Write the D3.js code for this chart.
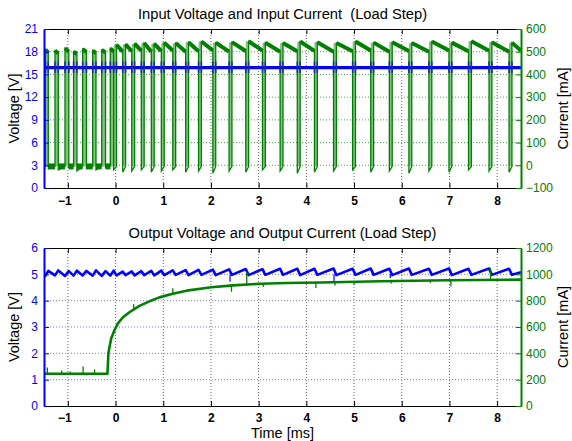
<!DOCTYPE html>
<html>
<head>
<meta charset="utf-8">
<script src="https://cdn.jsdelivr.net/npm/d3@7"></script>
<style>
  body { margin: 0; background: #fff; }
  svg text { font-family: "Liberation Sans", Arial, Helvetica, sans-serif; }
</style>
</head>
<body>
<div class="grafico"></div>
<script>
/*Ticks de los ejes*/
const timeTicks = [-1, 0, 1, 2, 3, 4, 5, 6, 7, 8];
const inVoltTicks = [0, 3, 6, 9, 12, 15, 18, 21];
const inCurrTicks = [-100, 0, 100, 200, 300, 400, 500, 600];
const outVoltTicks = [0, 1, 2, 3, 4, 5, 6];
const outCurrTicks = [0, 200, 400, 600, 800, 1000, 1200];

/*Flancos de la corriente de entrada (ms): subida y bajada de cada pulso*/
const pulseRise = [-1.47, -1.27, -1.06, -0.88, -0.69, -0.48, -0.29, -0.11,
  0.02, 0.21, 0.40, 0.60, 0.81, 1.02, 1.26, 1.53, 1.80, 2.10, 2.44, 2.79, 3.14,
  3.51, 3.87, 4.23, 4.63, 5.03, 5.41, 5.80, 6.21, 6.63, 7.05, 7.46, 7.89, 8.31];
const pulseFall = [-1.41, -1.20, -0.98, -0.81, -0.61, -0.41, -0.21, -0.04,
  0.15, 0.34, 0.54, 0.75, 0.96, 1.20, 1.47, 1.74, 2.04, 2.38, 2.73, 3.08, 3.45,
  3.81, 4.17, 4.57, 4.97, 5.35, 5.74, 6.15, 6.57, 6.99, 7.40, 7.83, 8.25, 8.50];
const lightPulses = 8; /*pulsos antes del escalón de carga*/

/*Corriente de entrada (mA)*/
const pulseTopMA = [510, 505, 515, 500, 512, 505, 508, 515,
  530, 532, 535, 538, 535, 540, 538, 542, 545, 540, 542, 546, 540,
  538, 545, 542, 538, 545, 540, 542, 538, 545, 540, 546, 542, 540];
const pulseEndMA = [495, 492, 500, 490, 498, 494, 496, 500,
  500, 502, 505, 500, 503, 505, 500, 502, 506, 500, 503, 505, 500,
  502, 504, 500, 502, 505, 500, 503, 500, 505, 502, 504, 500, 505];
const dipMinMA = [-15, -20, -10, -25, -15, -20, -10, -20,
  -30, -25, -20, -30, -25, -20, -30, -25, -35, -25, -30, -20, -25,
  -35, -30, -25, -20, -30, -25, -35, -25, -30, -20, -25, -30, -25];
const lowLevelMA = -5;

/*Tensión de entrada (V)*/
const inVoltLevel = 15.9;
const inVoltSpike = [15.2, 16.7];

/*Tensión de salida (V): valle en cada subida, pico en cada bajada*/
const outVStart = 5.02;
const outVTrough = [4.95, 4.96, 4.94, 4.95, 4.96, 4.95, 4.94, 4.95,
  4.96, 4.97, 4.96, 4.97, 4.96, 4.97, 4.98, 4.97, 4.98, 4.97, 4.98, 4.97, 4.98,
  4.98, 4.97, 4.98, 4.97, 4.98, 4.98, 4.97, 4.98, 4.98, 4.97, 4.98, 4.98, 4.98];
const outVPeak = [5.13, 5.15, 5.12, 5.14, 5.13, 5.15, 5.12, 5.14,
  5.10, 5.11, 5.12, 5.13, 5.14, 5.15, 5.16, 5.17, 5.18, 5.19, 5.20, 5.20, 5.21,
  5.21, 5.21, 5.22, 5.21, 5.22, 5.21, 5.22, 5.21, 5.22, 5.21, 5.22, 5.21, 5.08];
const outVGlitch = [[2.40, 4.72], [4.58, 4.75], [5.76, 4.86]];

/*Corriente de salida (mA)*/
const outCurrTime = [-1.5, -0.17, -0.15, -0.126, -0.09, -0.02, 0.05, 0.15, 0.29, 0.50,
  0.71, 0.92, 1.20, 1.49, 2.01, 2.46, 3.03, 3.59, 4.30, 5.55, 6.95, 8.5];
const outCurrMA = [245, 245, 400, 450, 514, 577, 628, 672, 712, 760,
  795, 825, 852, 876, 902, 916, 928, 934, 938, 948, 955, 960];
const outCurrSpikes = [[-1.43, 245, 292], [-1.13, 245, 270], [-0.95, 245, 262],
  [-0.68, 245, 300], [-0.44, 245, 278], [-0.60, 245, 232], [0.38, 725, 772],
  [1.20, 852, 895], [2.43, 915, 868], [2.75, 922, 1020], [3.10, 928, 905],
  [4.20, 936, 896], [4.60, 940, 915], [5.00, 942, 920], [5.78, 950, 930],
  [6.60, 954, 935], [7.03, 955, 908], [7.86, 957, 1048]];

const BLUE = '#0000ff';
const GREEN = '#008000';

const graph = () => {
  const w = 572;
  const h = 441;

  const svg = d3.select('.grafico')
    .append('svg')
    .attr('width', w)
    .attr('height', h);

  const x = d3.scaleLinear().domain([-1.5, 8.5]).range([44, 521]);
  const [x0, x1] = x.range();
  const fmt = d3.format('');

  /*Panel genérico: ejes, grilla y títulos*/
  const panel = (cfg) => {
    const { top, bottom } = cfg;
    const yL = d3.scaleLinear().domain(cfg.left).range([bottom, top]);
    const yR = d3.scaleLinear().domain(cfg.right).range([bottom, top]);
    const g = svg.append('g');

    svg.append('clipPath').attr('id', cfg.id)
      .append('rect')
      .attr('x', x0).attr('y', top)
      .attr('width', x1 - x0).attr('height', bottom - top);

    /*Grilla*/
    g.append('g').selectAll('line')
      .data(timeTicks)
      .join('line')
      .attr('x1', d => x(d)).attr('x2', d => x(d))
      .attr('y1', top).attr('y2', bottom)
      .attr('stroke', '#666')
      .attr('stroke-dasharray', '1,2');

    const gy = cfg.gridOnRight ? yR : yL;
    const gTicks = cfg.gridOnRight ? cfg.rightTicks : cfg.leftTicks;
    g.append('g').selectAll('line')
      .data(gTicks.slice(1, -1))
      .join('line')
      .attr('x1', x0).attr('x2', x1)
      .attr('y1', d => gy(d)).attr('y2', d => gy(d))
      .attr('stroke', cfg.gridColor)
      .attr('stroke-dasharray', '1,2');

    const plot = svg.append('g').attr('clip-path', `url(#${cfg.id})`);

    /*Ejes*/
    const axes = svg.append('g');
    const top_ = axes.append('g')
      .attr('transform', `translate(0,${top})`)
      .call(d3.axisTop(x).tickValues(timeTicks).tickSizeInner(-5).tickSizeOuter(0).tickFormat(''));
    top_.selectAll('line,path').attr('stroke', '#000');

    const bot = axes.append('g')
      .attr('transform', `translate(0,${bottom})`)
      .call(d3.axisBottom(x).tickValues(timeTicks).tickSizeInner(-5).tickSizeOuter(0)
        .tickPadding(cfg.xPad).tickFormat(fmt));
    bot.selectAll('line,path').attr('stroke', '#000');
    bot.selectAll('text')
      .attr('font-size', 12)
      .attr('font-weight', 'bold')
      .attr('fill', '#000')
      .attr('dx', d => d < 0 ? '-0.3em' : null);

    const left = axes.append('g')
      .attr('transform', `translate(${x0},0)`)
      .call(d3.axisLeft(yL).tickValues(cfg.leftTicks).tickSizeInner(-5).tickSizeOuter(0)
        .tickPadding(6).tickFormat(fmt));
    left.selectAll('line').attr('stroke', BLUE);
    left.select('.domain').attr('stroke', BLUE).attr('stroke-width', 2);
    left.selectAll('text').attr('font-size', 12).attr('fill', BLUE);

    const right = axes.append('g')
      .attr('transform', `translate(${x1},0)`)
      .call(d3.axisRight(yR).tickValues(cfg.rightTicks).tickSizeInner(-5).tickSizeOuter(0)
        .tickPadding(5).tickFormat(fmt));
    right.selectAll('line').attr('stroke', GREEN);
    right.select('.domain').attr('stroke', GREEN).attr('stroke-width', 2);
    right.selectAll('text').attr('font-size', 12).attr('fill', GREEN);

    /*Títulos*/
    svg.append('text')
      .attr('x', (x0 + x1) / 2).attr('y', cfg.titleY)
      .attr('text-anchor', 'middle')
      .attr('font-size', 14.7)
      .style('white-space', 'pre')
      .text(cfg.title);

    svg.append('text')
      .attr('transform', `translate(18.5,${(top + bottom) / 2}) rotate(-90)`)
      .attr('text-anchor', 'middle')
      .attr('font-size', 14.5)
      .text('Voltage [V]');

    svg.append('text')
      .attr('transform', `translate(567.5,${(top + bottom) / 2}) rotate(-90)`)
      .attr('text-anchor', 'middle')
      .attr('font-size', 14.5)
      .text('Current [mA]');

    return { yL, yR, plot };
  };

  /*Panel superior: entrada*/
  const p1 = panel({
    id: 'clipIn', top: 29, bottom: 188,
    left: [0, 21], right: [-100, 600],
    leftTicks: inVoltTicks, rightTicks: inCurrTicks,
    gridOnRight: true, gridColor: '#4fa84f', xPad: 8,
    title: 'Input Voltage and Input Current  (Load Step)', titleY: 18.8
  });

  /*Fase corta de cada ciclo (sombreado claro)*/
  const shortPhases = pulseRise.map((r, i) => i < lightPulses
    ? [r, pulseFall[i], pulseTopMA[i]]
    : [pulseFall[i - 1], r, pulseTopMA[i]]);

  p1.plot.append('g').selectAll('rect')
    .data(shortPhases)
    .join('rect')
    .attr('x', d => x(d[0]))
    .attr('width', d => Math.max(0.5, x(d[1]) - x(d[0])))
    .attr('y', d => p1.yR(d[2]))
    .attr('height', d => p1.yR(lowLevelMA) - p1.yR(d[2]))
    .attr('fill', '#84c284');

  /*Nivel bajo con ruido antes del escalón*/
  const lightLows = [[-1.5, pulseRise[0]]].concat(
    d3.range(lightPulses - 1).map(i => [pulseFall[i], pulseRise[i + 1]]));
  p1.plot.append('g').selectAll('line')
    .data(lightLows)
    .join('line')
    .attr('x1', d => x(d[0])).attr('x2', d => x(d[1]))
    .attr('y1', p1.yR(lowLevelMA)).attr('y2', p1.yR(lowLevelMA))
    .attr('stroke', GREEN).attr('stroke-width', 6);

  /*Mesetas altas*/
  p1.plot.append('g').selectAll('line')
    .data(pulseRise.map((r, i) => [r, pulseFall[i], pulseTopMA[i], pulseEndMA[i]]))
    .join('line')
    .attr('x1', d => x(d[0])).attr('x2', d => x(d[1]))
    .attr('y1', d => p1.yR(d[2])).attr('y2', d => p1.yR(d[3]))
    .attr('stroke', GREEN).attr('stroke-width', 4);

  /*Forma de onda de la corriente de entrada*/
  const inCurrentPts = [[-1.5, lowLevelMA]];
  pulseRise.forEach((r, i) => {
    inCurrentPts.push([r, lowLevelMA], [r, pulseTopMA[i]], [pulseFall[i], pulseEndMA[i]]);
    if (pulseFall[i] < 8.5) inCurrentPts.push([pulseFall[i], dipMinMA[i]]);
  });

  const lineIn = d3.line().x(d => x(d[0])).y(d => p1.yR(d[1]));
  p1.plot.append('path')
    .attr('d', lineIn(inCurrentPts))
    .attr('fill', 'none')
    .attr('stroke', GREEN)
    .attr('stroke-width', 1.3);

  /*Tensión de entrada*/
  p1.plot.append('line')
    .attr('x1', x0).attr('x2', x1)
    .attr('y1', p1.yL(inVoltLevel)).attr('y2', p1.yL(inVoltLevel))
    .attr('stroke', BLUE).attr('stroke-width', 3.2);

  p1.plot.append('g').selectAll('line')
    .data(pulseRise.concat(pulseFall.slice(0, -1)))
    .join('line')
    .attr('x1', d => x(d)).attr('x2', d => x(d))
    .attr('y1', p1.yL(inVoltSpike[0])).attr('y2', p1.yL(inVoltSpike[1]))
    .attr('stroke', '#1c2c9c').attr('stroke-width', 1.5);

  /*Panel inferior: salida*/
  const p2 = panel({
    id: 'clipOut', top: 248, bottom: 406,
    left: [0, 6], right: [0, 1200],
    leftTicks: outVoltTicks, rightTicks: outCurrTicks,
    gridOnRight: false, gridColor: '#7777ff', xPad: 7,
    title: 'Output Voltage and Output Current (Load Step)', titleY: 237.8
  });

  /*Tensión de salida*/
  const outVPts = [[-1.5, outVStart]];
  pulseRise.forEach((r, i) => {
    outVPts.push([r, outVTrough[i]], [pulseFall[i], outVPeak[i]]);
  });
  const lineOutV = d3.line().x(d => x(d[0])).y(d => p2.yL(d[1]));
  p2.plot.append('path')
    .attr('d', lineOutV(outVPts))
    .attr('fill', 'none')
    .attr('stroke', BLUE)
    .attr('stroke-width', 2.6)
    .attr('stroke-linejoin', 'round');

  p2.plot.append('g').selectAll('line')
    .data(outVGlitch)
    .join('line')
    .attr('x1', d => x(d[0])).attr('x2', d => x(d[0]))
    .attr('y1', p2.yL(5.0)).attr('y2', d => p2.yL(d[1]))
    .attr('stroke', BLUE).attr('stroke-width', 1.2);

  /*Corriente de salida*/
  const lineOutI = d3.line().x(d => x(d[0])).y(d => p2.yR(d[1]));
  p2.plot.append('path')
    .attr('d', lineOutI(outCurrTime.map((t, i) => [t, outCurrMA[i]])))
    .attr('fill', 'none')
    .attr('stroke', GREEN)
    .attr('stroke-width', 2.6)
    .attr('stroke-linejoin', 'round');

  p2.plot.append('g').selectAll('line')
    .data(outCurrSpikes)
    .join('line')
    .attr('x1', d => x(d[0])).attr('x2', d => x(d[0]))
    .attr('y1', d => p2.yR(d[1])).attr('y2', d => p2.yR(d[2]))
    .attr('stroke', GREEN).attr('stroke-width', 1.3);

  /*Eje X*/
  svg.append('text')
    .attr('x', (x0 + x1) / 2).attr('y', 437.5)
    .attr('text-anchor', 'middle')
    .attr('font-size', 14.5)
    .text('Time [ms]');
};

graph();
</script>
</body>
</html>
